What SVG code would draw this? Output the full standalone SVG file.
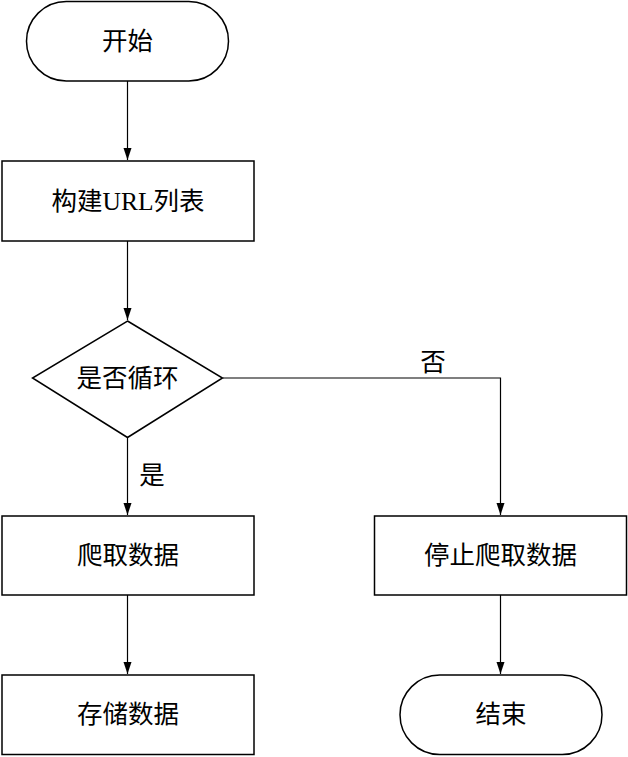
<svg xmlns="http://www.w3.org/2000/svg" width="628" height="757" viewBox="0 0 628 757">
<style>
.n{fill:#fff;stroke:#000;stroke-width:1.5}
.t{font-family:"Liberation Serif","Noto Sans CJK SC",serif;font-size:25.5px;fill:#000;text-anchor:middle;dominant-baseline:central}
.e{fill:none;stroke:#000;stroke-width:1.2}
</style>
<defs>
<marker id="a" markerWidth="12" markerHeight="10" refX="12" refY="5" orient="auto" markerUnits="userSpaceOnUse" viewBox="0 0 12 10">
<path d="M0,1 L12,5 L0,9 Z" fill="#000"/>
</marker>
</defs>
<rect width="628" height="757" fill="#fff"/>
<g id="connectors">
<line class="e" x1="127.5" y1="81" x2="127.5" y2="160" marker-end="url(#a)"/>
<line class="e" x1="127.5" y1="241" x2="127.5" y2="320" marker-end="url(#a)"/>
<line class="e" x1="127.5" y1="438" x2="127.5" y2="515" marker-end="url(#a)"/>
<polyline class="e" points="223,378 500.5,378 500.5,515" marker-end="url(#a)"/>
<line class="e" x1="127.5" y1="595" x2="127.5" y2="674" marker-end="url(#a)"/>
<line class="e" x1="500.5" y1="595" x2="500.5" y2="674" marker-end="url(#a)"/>
<text class="t" x="433" y="362">否</text>
<text class="t" x="152" y="475">是</text>
</g>
<g id="start">
<rect class="n" x="26.5" y="1.5" width="202" height="79.5" rx="39.75"/>
<text class="t" x="127.5" y="41">开始</text>
</g>
<g id="build">
<rect class="n" x="2" y="161" width="252" height="80"/>
<text class="t" x="128" y="201">构建URL列表</text>
</g>
<g id="decision">
<polygon class="n" points="127.5,321 222.5,378 127.5,437.5 32.5,378"/>
<text class="t" x="127.5" y="378">是否循环</text>
</g>
<g id="crawl">
<rect class="n" x="2" y="516" width="252" height="79"/>
<text class="t" x="128" y="555.5">爬取数据</text>
</g>
<g id="store">
<rect class="n" x="2" y="675" width="252" height="79.5"/>
<text class="t" x="128" y="714.5">存储数据</text>
</g>
<g id="stop">
<rect class="n" x="374.5" y="516" width="252" height="79"/>
<text class="t" x="500.5" y="555.5">停止爬取数据</text>
</g>
<g id="end">
<rect class="n" x="400" y="675" width="202" height="79.5" rx="39.75"/>
<text class="t" x="501" y="714.5">结束</text>
</g>
</svg>
